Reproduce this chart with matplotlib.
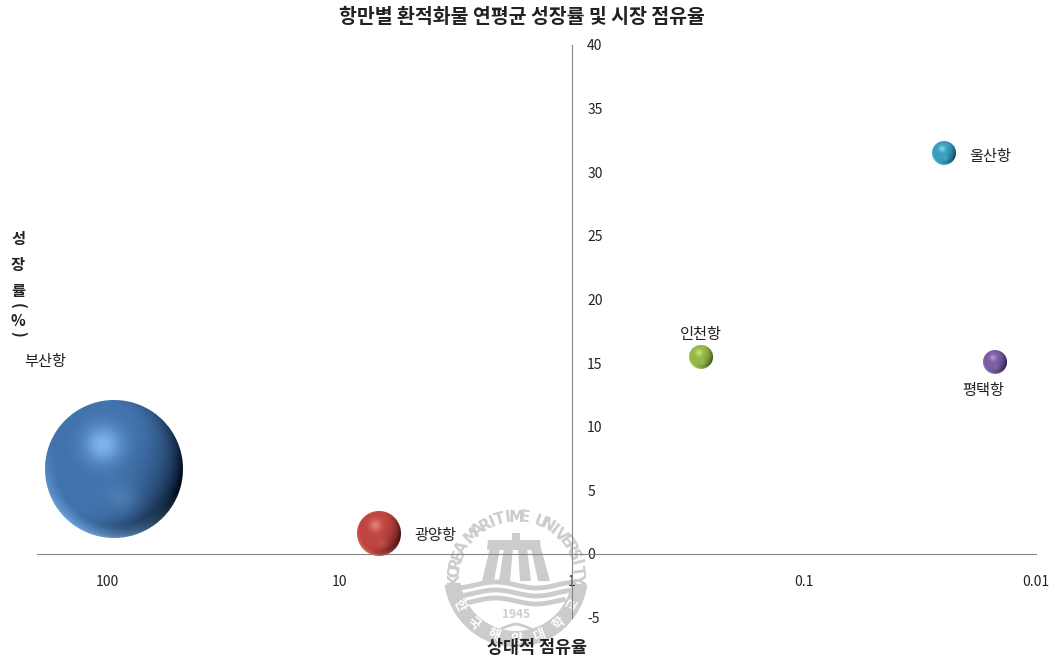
# Bubble chart of port cargo growth against relative market share
import numpy as np
import matplotlib
matplotlib.use("Agg")
import matplotlib.pyplot as plt
from matplotlib.offsetbox import OffsetImage, AnnotationBbox
from matplotlib.patches import Wedge, Polygon

plt.rcParams['font.family'] = ['Noto Sans CJK KR', 'DejaVu Sans']
plt.rcParams['axes.unicode_minus'] = False

# Data
ports = ["부산항", "광양항", "인천항", "울산항", "평택항"]
market_share = [94, 6.8, 0.278, 0.025, 0.015]
growth = [6.65, 1.6, 15.5, 31.5, 15.1]
bubble_radius = [69, 22, 12, 12, 12]
x_ticks = [100, 10, 1, 0.1, 0.01]
x_tick_labels = ["100", "10", "1", "0.1", "0.01"]
y_ticks = [-5, 0, 5, 10, 15, 20, 25, 30, 35, 40]

W, H = 1059, 659
GREY = "#868686"
SEAL = "#cccccc"

# sphere colours: base, highlight, shadow
sphere_colors = [
    ((0.26, 0.45, 0.68), (0.52, 0.74, 0.96), (0.01, 0.06, 0.12)),
    ((0.75, 0.27, 0.25), (0.90, 0.52, 0.48), (0.28, 0.05, 0.05)),
    ((0.58, 0.72, 0.28), (0.80, 0.90, 0.52), (0.22, 0.30, 0.06)),
    ((0.22, 0.62, 0.74), (0.50, 0.86, 0.94), (0.05, 0.24, 0.32)),
    ((0.48, 0.36, 0.63), (0.72, 0.62, 0.86), (0.15, 0.09, 0.25)),
]


def sphere(r, base, light, dark):
    # RGBA picture of a shaded ball, r is the radius in pixels
    n = 2 * r + 2
    v, u = np.mgrid[0:n, 0:n]
    u = (u - n / 2 + 0.5) / r
    v = (v - n / 2 + 0.5) / r
    d = np.sqrt(u ** 2 + v ** 2)
    img = np.zeros((n, n, 4))
    base, light, dark = np.array(base), np.array(light), np.array(dark)

    spot = np.exp(-((u + 0.16) ** 2 + (v + 0.36) ** 2) / 0.07) * 0.9
    # shadow grows toward lower right, mostly near the edge
    shade = np.clip((u * 0.85 + v * 0.45) * 0.75 + d ** 5 * 0.4, 0, 1) ** 1.5
    # light coming back along the bottom rim
    rim = np.clip(d - 0.82, 0, 1) / 0.18 * np.clip(0.95 * v - 0.35 * u, 0, 1)
    bounce = np.exp(-((u - 0.13) ** 2 + (v - 0.42) ** 2) / 0.05) * 0.22

    for i in range(3):
        c = base[i] * (1 - shade) + dark[i] * shade
        c = c * (1 - spot) + light[i] * spot
        c = c + (light[i] - c) * np.clip(rim * 0.7 + bounce, 0, 1)
        img[:, :, i] = np.clip(c, 0, 1)
    img[:, :, 3] = np.clip((1 - d) * r + 0.5, 0, 1)
    return img


def fx(px):
    return px / W


def fy(py):
    return 1 - py / H


def draw_seal(sx):
    cx, cy = 516, 579
    # ring with the Korean name
    ry = 575
    sx.add_patch(Wedge((cx, ry), 72, 8, 172, width=16, color=SEAL, lw=0))
    name = "한국해양대학교"
    for ch, a in zip(name, np.linspace(152, 28, 7)):
        t = np.radians(a)
        sx.text(cx + 64 * np.cos(t), ry + 64 * np.sin(t), ch, color="white",
                fontsize=9.5, fontweight="bold", ha="center", va="center",
                rotation=90 - a)
    # name round the top
    top = "KOREA MARITIME UNIVERSITY"
    for ch, a in zip(top, np.linspace(-90, 90, len(top))):
        t = np.radians(a)
        sx.text(cx + 62 * np.sin(t), cy - 62 * np.cos(t), ch, color=SEAL,
                family=['Liberation Sans Narrow', 'DejaVu Sans'],
                fontsize=11, fontweight="bold", ha="center", va="center",
                rotation=-a)
    # the gate
    sx.add_patch(Polygon([(512, 533), (520, 533), (520, 541), (512, 541)], color=SEAL, lw=0))
    sx.add_patch(Polygon([(488, 540), (540, 540), (541, 550), (487, 550)], color=SEAL, lw=0))
    legs = [(490, 482, 12), (504, 499, 11), (518, 520, 11), (531, 538, 12)]
    for x0, x1, w in legs:
        sx.add_patch(Polygon([(x0, 548), (x0 + w - 2, 548), (x1 + w, 581), (x1, 581)],
                             color=SEAL, lw=0))
    # waves
    xs = np.linspace(455, 577, 120)
    for k, yw in enumerate([585, 593, 601]):
        half = 58 - k * 5
        part = np.abs(xs - cx) < half
        sx.plot(xs[part], yw + 3 * np.sin((xs[part] - cx) / 13.0), color=SEAL, lw=3.5,
                solid_capstyle="round")
    sx.text(cx, 615, "1945", color=SEAL, fontsize=8.5, fontweight="bold",
            ha="center", va="center")
    ang = np.linspace(-1, 1, 30)
    sx.plot(cx + 17 * ang, 627 - 3 * (1 - ang ** 2) + 3 * np.abs(ang), color=SEAL, lw=2)


fig = plt.figure(figsize=(W / 100, H / 100), dpi=100, facecolor="white")

# seal lies under the chart, drawn in picture pixels
sx = fig.add_axes([0, 0, 1, 1], zorder=0)
sx.set_xlim(0, W)
sx.set_ylim(H, 0)
sx.axis("off")
draw_seal(sx)

ax = fig.add_axes([fx(37), fy(617.6), (1036 - 37) / W, (617.6 - 45) / H], zorder=1)
ax.patch.set_alpha(0)
ax.set_xscale("log")
ax.set_xlim(202, 0.01)
ax.set_ylim(-5, 40)

for side in ["top", "left"]:
    ax.spines[side].set_visible(False)
ax.spines["bottom"].set_position(("data", 0))
ax.spines["right"].set_position(("data", 1))
ax.spines["bottom"].set_color(GREY)
ax.spines["right"].set_color(GREY)
ax.yaxis.tick_right()
ax.set_xticks(x_ticks)
ax.set_xticklabels(x_tick_labels)
ax.set_yticks(y_ticks)
ax.minorticks_off()
ax.tick_params(axis="x", length=0, pad=15, labelsize=10, labelcolor="#222222")
ax.tick_params(axis="y", length=0, pad=11, labelsize=10, labelcolor="#222222")

for x, y, r, c in zip(market_share, growth, bubble_radius, sphere_colors):
    im = OffsetImage(sphere(r, *c), zoom=1, dpi_cor=False, interpolation="bilinear")
    ax.add_artist(AnnotationBbox(im, (x, y), frameon=False, pad=0, zorder=3))

# label offsets from the centre of each ball, in pixels
label_offsets = [(-69, 108), (57, -2), (0, 22), (47, -3), (-12, -29)]
for name, x, y, off in zip(ports, market_share, growth, label_offsets):
    ax.annotate(name, (x, y), xytext=(off[0] * 0.72, off[1] * 0.72),
                textcoords="offset points", ha="center", va="center",
                fontsize=11, color="#222222")

fig.text(fx(521.5), fy(17), "항만별 환적화물 연평균 성장률 및 시장 점유율", fontsize=14,
         fontweight="bold", ha="center", va="center", color="#222222")
fig.text(fx(537), fy(648), "상대적 점유율", fontsize=12.5,
         fontweight="bold", ha="center", va="center", color="#222222")

# y axis title is stacked one sign at a time
y_title = ["성", "장", "률", "(", "%", ")"]
y_title_px = [239, 265, 291, 306, 321, 334]
y_title_rot = [0, 0, 0, -90, 0, -90]
for ch, py, rot in zip(y_title, y_title_px, y_title_rot):
    fig.text(fx(18), fy(py), ch, fontsize=11, fontweight="bold", rotation=rot,
             ha="center", va="center", color="#222222")

fig.savefig("out.png", dpi=100)
